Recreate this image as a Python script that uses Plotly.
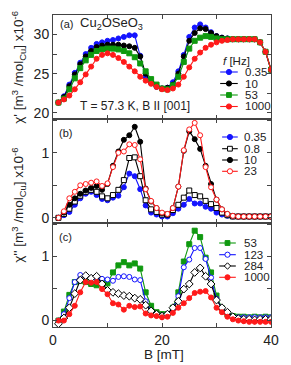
import plotly.graph_objects as go
from plotly.subplots import make_subplots

# ---------------- data ----------------
B = list(range(1, 41))

# panel (a): chi' vs B for several frequencies
chi1_035 = [21.3, 22.1, 23.6, 25.1, 26.4, 27.5, 28.3, 28.8, 29.0, 29.2, 29.3, 29.5, 29.7, 29.9, 29.9, 27.3, 24.6, 23.8, 23.3, 23.1,
            23.2, 23.9, 25.3, 27.4, 29.7, 30.9, 31.3, 30.9, 30.3, 29.8, 29.6, 29.5, 29.4, 29.4, 29.4, 29.4, 29.4, 29.0, 27.8, 25.5]
chi1_10 = [21.3, 22.0, 23.4, 24.9, 26.2, 27.2, 27.9, 28.4, 28.6, 28.7, 28.7, 28.7, 28.6, 28.5, 28.3, 27.2, 25.0, 23.9, 23.4, 23.1,
           23.2, 23.6, 25.0, 27.2, 29.2, 30.2, 30.8, 30.7, 30.2, 29.8, 29.6, 29.5, 29.4, 29.4, 29.4, 29.4, 29.4, 29.0, 27.8, 25.5]
chi1_53 = [21.3, 21.8, 23.0, 24.4, 25.7, 26.7, 27.4, 27.9, 28.1, 28.2, 28.2, 28.1, 27.9, 27.6, 27.1, 26.3, 25.3, 24.3, 23.6, 23.1,
           23.0, 23.5, 24.6, 26.5, 28.2, 29.2, 29.6, 29.8, 29.7, 29.5, 29.4, 29.4, 29.4, 29.4, 29.4, 29.4, 29.4, 29.0, 27.8, 25.5]
chi1_1000 = [21.3, 21.7, 22.2, 23.0, 23.9, 24.9, 25.9, 26.9, 27.4, 27.6, 27.4, 27.0, 26.5, 25.9, 25.3, 24.6, 24.1, 23.7, 23.3, 23.0,
             22.9, 23.1, 23.6, 24.6, 25.8, 26.9, 27.7, 28.3, 28.7, 29.0, 29.2, 29.3, 29.4, 29.4, 29.4, 29.4, 29.4, 29.0, 27.8, 25.5]

# panel (b): chi'' low frequencies
chi2_035 = [0.0, 0.04, 0.09, 0.20, 0.30, 0.37, 0.40, 0.35, 0.29, 0.27, 0.31, 0.34, 0.47, 0.68, 0.64, 0.44, 0.19, 0.08, 0.05, 0.02,
            0.02, 0.07, 0.14, 0.20, 0.29, 0.22, 0.22, 0.17, 0.14, 0.08, 0.05, 0.03, 0.02, 0.02, 0.02, 0.02, 0.02, 0.02, 0.02, 0.02]
chi2_08 = [0.0, 0.06, 0.14, 0.25, 0.34, 0.40, 0.43, 0.40, 0.33, 0.30, 0.35, 0.43, 0.58, 0.92, 0.93, 0.64, 0.27, 0.13, 0.09, 0.05,
           0.05, 0.12, 0.20, 0.31, 0.42, 0.35, 0.33, 0.26, 0.21, 0.15, 0.08, 0.04, 0.02, 0.02, 0.02, 0.02, 0.02, 0.02, 0.02, 0.02]
chi2_10 = [0.0, 0.08, 0.20, 0.30, 0.37, 0.42, 0.46, 0.49, 0.43, 0.52, 0.80, 1.02, 1.20, 1.27, 1.40, 1.17, 0.45, 0.25, 0.15, 0.07,
           0.05, 0.15, 0.48, 1.03, 1.33, 1.21, 1.06, 0.80, 0.52, 0.28, 0.13, 0.06, 0.03, 0.02, 0.02, 0.02, 0.02, 0.02, 0.02, 0.02]
chi2_23 = [0.0, 0.10, 0.30, 0.40, 0.50, 0.52, 0.54, 0.56, 0.49, 0.53, 0.78, 1.00, 1.02, 1.13, 1.12, 0.90, 0.44, 0.26, 0.15, 0.08,
           0.06, 0.15, 0.48, 1.04, 1.36, 1.46, 1.27, 0.78, 0.47, 0.28, 0.13, 0.06, 0.03, 0.02, 0.02, 0.02, 0.02, 0.02, 0.02, 0.02]

# panel (c): chi'' high frequencies
chi2_53 = [0.0, 0.14, 0.40, 0.60, 0.62, 0.60, 0.57, 0.55, 0.62, 0.58, 0.75, 0.86, 0.91, 0.86, 0.89, 0.81, 0.44, 0.23, 0.13, 0.10,
           0.10, 0.20, 0.44, 0.92, 1.19, 1.40, 1.30, 0.98, 0.75, 0.39, 0.19, 0.10, 0.07, 0.06, 0.06, 0.05, 0.06, 0.05, 0.06, 0.05]
chi2_123 = [0.0, 0.10, 0.35, 0.60, 0.71, 0.69, 0.66, 0.65, 0.65, 0.64, 0.62, 0.68, 0.69, 0.68, 0.64, 0.63, 0.30, 0.15, 0.10, 0.08,
            0.10, 0.18, 0.38, 0.83, 0.95, 1.13, 1.13, 0.96, 0.67, 0.34, 0.19, 0.11, 0.06, 0.05, 0.05, 0.05, 0.05, 0.05, 0.05, 0.05]
chi2_284 = [-0.05, 0.04, 0.20, 0.42, 0.63, 0.70, 0.66, 0.69, 0.57, 0.47, 0.44, 0.42, 0.39, 0.38, 0.35, 0.33, 0.24, 0.15, 0.10, 0.07,
            0.10, 0.20, 0.30, 0.49, 0.57, 0.75, 0.82, 0.69, 0.57, 0.32, 0.20, 0.13, 0.06, 0.03, 0.02, 0.02, 0.01, 0.02, 0.02, 0.02]
chi2_1000 = [0.0, 0.0, 0.10, 0.23, 0.44, 0.60, 0.59, 0.60, 0.49, 0.41, 0.27, 0.25, 0.17, 0.23, 0.21, 0.22, 0.11, 0.08, 0.07, 0.05,
             0.06, 0.12, 0.20, 0.27, 0.35, 0.43, 0.45, 0.46, 0.36, 0.20, 0.13, 0.06, 0.02, 0.0, -0.01, -0.02, -0.02, -0.02, -0.02, -0.02]

labels_a = ["0.35", "10", "53", "1000"]
labels_b = ["0.35", "0.8", "10", "23"]
labels_c = ["53", "123", "284", "1000"]

# ---------------- styles ----------------
BLUE = "#1414ff"
BLACK = "#000000"
GREEN = "#0f990f"
RED = "#ff1a1a"
FONT = "Liberation Sans, Arial, sans-serif"
TXT = "#222222"

W, H = 291, 365
ML, MR, MT, MB = 53, 15, 15, 38
PW, PH = W - ML - MR, H - MT - MB

series = [
    # row, y, color, symbol, filled
    (1, chi1_035, BLUE, "circle", True),
    (1, chi1_10, BLACK, "circle", True),
    (1, chi1_53, GREEN, "square", True),
    (1, chi1_1000, RED, "circle", True),
    (2, chi2_035, BLUE, "circle", True),
    (2, chi2_08, BLACK, "square", False),
    (2, chi2_10, BLACK, "circle", True),
    (2, chi2_23, RED, "circle", False),
    (3, chi2_53, GREEN, "square", True),
    (3, chi2_123, BLUE, "circle", False),
    (3, chi2_284, BLACK, "diamond", False),
    (3, chi2_1000, RED, "circle", True),
]

fig = make_subplots(rows=3, cols=1, shared_xaxes=True, vertical_spacing=0)

for row, y, col, sym, filled in series:
    fig.add_trace(go.Scatter(
        x=B, y=y, mode="lines+markers",
        line=dict(color=col, width=1.1),
        marker=dict(symbol=sym, size=5 if sym != "diamond" else 6,
                    color=col if filled else "white",
                    line=dict(color=col, width=1)),
        showlegend=False, hoverinfo="skip"), row=row, col=1)

axis_common = dict(showline=True, mirror="allticks", linecolor="#444444", linewidth=1,
                   ticks="inside", ticklen=4, tickcolor="#444444", showgrid=False, zeroline=False,
                   tickfont=dict(family=FONT, size=14, color=TXT))

for r in (1, 2, 3):
    fig.update_xaxes(range=[0, 40], tickvals=[0, 10, 20, 30, 40],
                     ticktext=["0", "", "20", "", "40"] if r == 3 else [""] * 5,
                     showticklabels=(r == 3), **axis_common, row=r, col=1)

fig.update_yaxes(range=[19.2, 32.5], tickvals=[20, 22.5, 25, 27.5, 30],
                 ticktext=["20", "", "25", "", "30"], **axis_common, row=1, col=1)
fig.update_yaxes(range=[-0.08, 1.52], tickvals=[0, 0.5, 1, 1.5],
                 ticktext=["0", "", "1", ""], **axis_common, row=2, col=1)
fig.update_yaxes(range=[-0.1, 1.52], tickvals=[0, 0.5, 1, 1.5],
                 ticktext=["0", "", "1", ""], **axis_common, row=3, col=1)


def px2x(px):
    return (px - ML) / PW


def px2y(py):
    return (H - MB - py) / PH


annotations = []
shapes = []


def text(px, py, s, size=12, anchor="left", angle=0):
    annotations.append(dict(x=px2x(px), y=px2y(py), xref="paper", yref="paper", text=s,
                            showarrow=False, xanchor=anchor, yanchor="middle", textangle=angle,
                            font=dict(family=FONT, size=size, color=TXT)))


def legend_entry(x0, x1, py, col, sym, filled, label, tx):
    xm = (x0 + x1) / 2
    shapes.append(dict(type="line", xref="paper", yref="paper", x0=px2x(x0), x1=px2x(x1),
                       y0=px2y(py), y1=px2y(py), line=dict(color=col, width=1.1)))
    fill = col if filled else "white"
    common = dict(xref="paper", yref="paper", xsizemode="pixel", ysizemode="pixel",
                  xanchor=px2x(xm), yanchor=px2y(py), fillcolor=fill, line=dict(color=col, width=1))
    if sym == "circle":
        shapes.append(dict(type="circle", x0=-2.6, x1=2.6, y0=-2.6, y1=2.6, **common))
    elif sym == "square":
        shapes.append(dict(type="rect", x0=-2.4, x1=2.4, y0=-2.4, y1=2.4, **common))
    else:
        shapes.append(dict(type="path", path="M 0 3.2 L 3.2 0 L 0 -3.2 L -3.2 0 Z", **common))
    text(tx, py, label, size=11.5)


# legend (a)
text(225, 61, "<i>f</i> [Hz]", size=11.5)
for (r, y, col, sym, filled), lab, py in zip(series[0:4], labels_a, [72, 83.5, 95, 106.5]):
    legend_entry(224, 242, py, col, sym, filled, lab, 247)
# legend (b)
for (r, y, col, sym, filled), lab, py in zip(series[4:8], labels_b, [137, 148.7, 160, 171.3]):
    legend_entry(226, 242, py, col, sym, filled, lab, 246)
# legend (c)
for (r, y, col, sym, filled), lab, py in zip(series[8:12], labels_c, [243, 254.7, 266, 277.3]):
    legend_entry(223, 240, py, col, sym, filled, lab, 246)

# panel labels
text(58, 24, "(a)", size=11)
text(79, 23, "Cu<sub>2</sub>OSeO<sub>3</sub>", size=13)
text(79, 106, "T = 57.3 K, B II [001]", size=12)
text(57, 133, "(b)", size=11)
text(57, 237, "(c)", size=11)

# axis titles
text(18, 67, "χ' [m<sup>3</sup> /mol<sub>Cu</sub>] x10<sup>-6</sup>", size=13.5, anchor="center", angle=-90)
text(18, 205, "χ'' [m<sup>3</sup> /mol<sub>Cu</sub>] x10<sup>-6</sup>", size=13.5, anchor="center", angle=-90)
text(167, 355, "B [mT]", size=13.5, anchor="center")

fig.update_layout(width=W, height=H, margin=dict(l=ML, r=MR, t=MT, b=MB),
                  paper_bgcolor="white", plot_bgcolor="white",
                  annotations=annotations, shapes=shapes, showlegend=False)

fig.write_html("out.html", config={"displayModeBar": False},
               post_script="document.body.style.margin='0';document.body.style.overflow='hidden';")
